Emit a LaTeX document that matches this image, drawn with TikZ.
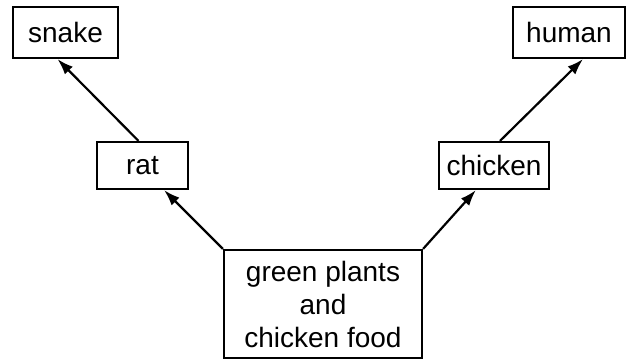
\documentclass[tikz,border=0pt]{standalone}
\usepackage{fontspec}
\setmainfont{Liberation Sans}
\usetikzlibrary{arrows.meta}
\begin{document}
\begin{tikzpicture}[x=1pt, y=1pt,
		box/.style={draw, line width=2.2pt, inner sep=0pt, align=center, font=\fontsize{28}{33}\selectfont},
		feeds/.style={-{Latex[length=16pt, width=11pt]}, line width=2.2pt}]
			\useasboundingbox (0,0) rectangle (627,360);
			\node[box, minimum width=105, minimum height=51] (snake) at (65.5,327.5) {snake};
			\node[box, minimum width=112, minimum height=51] (human) at (569,327.5) {human};
			\node[box, minimum width=91, minimum height=47] (rat) at (142.5,194.5) {rat};
			\node[box, minimum width=110, minimum height=47] (chicken) at (494,194.5) {chicken};
			\node[box, minimum width=198, minimum height=108] (plants) at (323,56) {green plants\\and\\chicken food};
			\draw[feeds] (plants.north west) -- ([xshift=-25pt]rat.south east);
			\draw[feeds] (plants.north east) -- ([xshift=38pt]chicken.south west);
			\draw[feeds] ([xshift=-4pt]rat.north) -- ([xshift=-8pt]snake.south);
			\draw[feeds] ([xshift=6pt]chicken.north) -- ([xshift=14pt]human.south);
		\end{tikzpicture}
\end{document}
